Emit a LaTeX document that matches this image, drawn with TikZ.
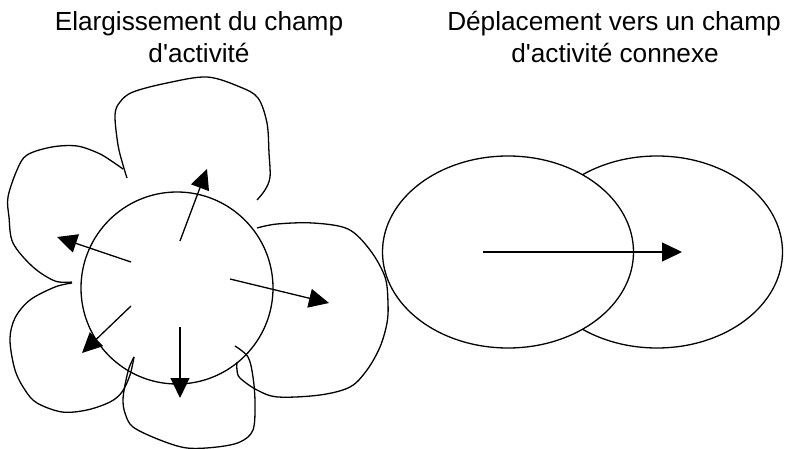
\documentclass[tikz,border=0pt]{standalone}
\usepackage{fontspec}
\setmainfont{Liberation Sans}
\usetikzlibrary{arrows.meta,shapes.geometric}
\begin{document}
\begin{tikzpicture}[x=1pt,y=-1pt,
  outline/.style={draw=black,line width=1.3pt},
  petal/.style={draw=black,line width=1.3pt,line join=round},
  push/.style={draw=black,line width=1.3pt,-{Triangle[length=20pt,width=19pt]}},
  title/.style={anchor=base,inner sep=0pt,font=\fontsize{26.2}{31}\selectfont}]
\useasboundingbox (0,0) rectangle (790,449);

% headings
\node[title] (t1a) at (199,31) {Elargissement du champ};
\node[title] (t1b) at (199,63) {d\textquotesingle activité};
\node[title] (t2a) at (614,31) {Déplacement vers un champ};
\node[title] (t2b) at (615,63) {d\textquotesingle activité connexe};

% shifted field: two overlapping ellipses, the front one hides the back one
\node[outline,ellipse,inner sep=0pt,minimum width=251pt,minimum height=192pt] (back) at (657,252) {};
\node[outline,ellipse,fill=white,inner sep=0pt,minimum width=251pt,minimum height=192pt] (front) at (508,252) {};
\coordinate (m0) at (483,252);
\coordinate (m1) at (682,252);
\draw[push] (m0) -- (m1);

% enlarged field: core circle and freehand petals
\node[outline,circle,inner sep=0pt,minimum size=192pt] (core) at (177,288) {};

\draw[petal] plot[smooth,tension=0.55] coordinates {
  (127,178) (123,165) (118,145) (115,115) (120,102) (133,92) (167,83)
  (207,77) (240,87) (258,98) (267,123) (269,153) (270,177) (265,190) (257,200)};
\draw[petal] plot[smooth,tension=0.55] coordinates {
  (123,169) (110,160) (98,153) (77,146) (52,147) (27,155) (17,170)
  (8,197) (9,217) (13,243) (33,267) (55,281) (72,282)};
\draw[petal] plot[smooth,tension=0.55] coordinates {
  (72,283) (55,287) (30,300) (15,318) (10,340) (15,370) (25,390)
  (37,403) (62,412) (87,410) (110,402) (122,392) (130,375) (134,357)};
\draw[petal] plot[smooth,tension=0.55] coordinates {
  (134,357) (129,368) (125,385) (123,400) (125,413) (133,427) (160,440)
  (187,448) (217,447) (240,442) (253,430) (255,403) (253,377) (248,357) (235,346)};
\draw[petal] plot[smooth,tension=0.55] coordinates {
  (257,228) (277,224) (313,223) (348,229) (370,250) (385,277) (388,303)
  (387,323) (380,347) (367,370) (350,387) (320,395) (278,397) (257,390)
  (240,378) (237,370) (237,362)};

% growth directions
\coordinate (u0) at (180,241); \coordinate (u1) at (207,169);
\coordinate (l0) at (131,262); \coordinate (l1) at (57,237);
\coordinate (r0) at (230,279); \coordinate (r1) at (329,303);
\coordinate (d0) at (131,306); \coordinate (d1) at (82,353);
\coordinate (s0) at (180,327); \coordinate (s1) at (180,398);
\draw[push] (u0) -- (u1);
\draw[push] (l0) -- (l1);
\draw[push] (r0) -- (r1);
\draw[push] (d0) -- (d1);
\draw[push] (s0) -- (s1);
\end{tikzpicture}
\end{document}
